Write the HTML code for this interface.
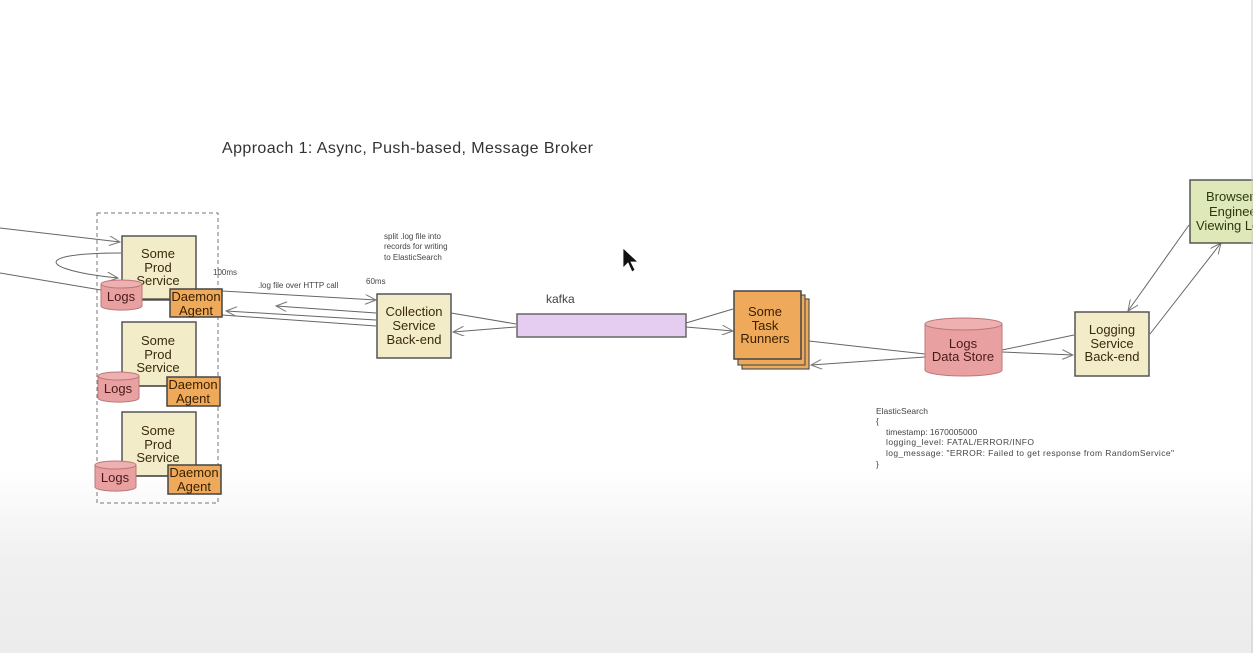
<!DOCTYPE html>
<html><head><meta charset="utf-8"><style>
html,body{margin:0;padding:0;}
body{width:1253px;height:653px;overflow:hidden;background:linear-gradient(#fff 0,#fff 470px,#f0f0f0 560px,#ececec 653px);font-family:"Liberation Sans",sans-serif;}
svg{position:absolute;left:0;top:0;}
</style></head><body>
<svg width="1253" height="653" viewBox="0 0 1253 653" font-family="Liberation Sans, sans-serif">
<defs>
<marker id="a" markerWidth="12" markerHeight="10" refX="11" refY="5" orient="auto" markerUnits="userSpaceOnUse">
<path d="M0,0 L11,5 L0,10" fill="none" stroke="#777" stroke-width="1"/></marker>
</defs>
<text x="222" y="153" font-size="16" fill="#333" textLength="371">Approach 1: Async, Push-based, Message Broker</text>

<rect x="97" y="213" width="121" height="290" fill="none" stroke="#777" stroke-dasharray="4,3" stroke-width="1"/>

<g stroke="#666" fill="none" stroke-width="1">
<line x1="0" y1="228" x2="120" y2="242" marker-end="url(#a)"/>
<path d="M121,253 C30,253 40,270 118,278" marker-end="url(#a)"/>
<line x1="0" y1="273" x2="101" y2="290"/>
<line x1="222" y1="291" x2="376" y2="300" marker-end="url(#a)"/>
<line x1="376" y1="313" x2="276" y2="306" marker-end="url(#a)"/>
<line x1="376" y1="320" x2="226" y2="311" marker-end="url(#a)"/>
<line x1="222" y1="315" x2="376" y2="326"/>
<line x1="451" y1="313" x2="516" y2="324"/>
<line x1="516" y1="327" x2="453" y2="332" marker-end="url(#a)"/>
<line x1="686" y1="323" x2="733" y2="309"/>
<line x1="686" y1="327" x2="733" y2="331" marker-end="url(#a)"/>
<line x1="809" y1="341" x2="925" y2="354"/>
<line x1="925" y1="357" x2="811" y2="365" marker-end="url(#a)"/>
<line x1="1002" y1="350" x2="1074" y2="335"/>
<line x1="1002" y1="352" x2="1073" y2="355" marker-end="url(#a)"/>
<line x1="1189" y1="225" x2="1128" y2="311" marker-end="url(#a)"/>
<line x1="1150" y1="334" x2="1221" y2="243" marker-end="url(#a)"/>
</g>

<g font-size="13" fill="#3a2a10" text-anchor="middle">
<rect x="122" y="236" width="74" height="64" fill="#f3ecc8" stroke="#555" stroke-width="1.5"/>
<text x="158" y="258">Some</text><text x="158" y="272">Prod</text><text x="158" y="285">Service</text>
<rect x="122" y="322" width="74" height="64" fill="#f3ecc8" stroke="#555" stroke-width="1.5"/>
<text x="158" y="345">Some</text><text x="158" y="359">Prod</text><text x="158" y="372">Service</text>
<rect x="122" y="412" width="74" height="64" fill="#f3ecc8" stroke="#555" stroke-width="1.5"/>
<text x="158" y="435">Some</text><text x="158" y="449">Prod</text><text x="158" y="462">Service</text>
</g>
<g stroke="#444" stroke-width="1.2"><line x1="140" y1="299" x2="170" y2="299"/><line x1="138" y1="386" x2="167" y2="386"/><line x1="135" y1="476" x2="168" y2="476"/></g>

<g font-size="13" fill="#4a1a1a" text-anchor="middle" stroke-width="1">
<path d="M101,284 v22 a20,4 0 0 0 41,0 v-22" fill="#e8a0a0" stroke="#b77"/><ellipse cx="121.5" cy="284" rx="20.5" ry="4" fill="#eeb0b0" stroke="#b77"/>
<text x="121" y="301" stroke="none">Logs</text>
<path d="M98,376 v22 a20,4 0 0 0 41,0 v-22" fill="#e8a0a0" stroke="#b77"/><ellipse cx="118.5" cy="376" rx="20.5" ry="4" fill="#eeb0b0" stroke="#b77"/>
<text x="118" y="393" stroke="none">Logs</text>
<path d="M95,465 v22 a20,4 0 0 0 41,0 v-22" fill="#e8a0a0" stroke="#b77"/><ellipse cx="115.5" cy="465" rx="20.5" ry="4" fill="#eeb0b0" stroke="#b77"/>
<text x="115" y="482" stroke="none">Logs</text>
</g>

<g font-size="13" fill="#3a2000" text-anchor="middle">
<rect x="170" y="289" width="52" height="28" fill="#eeaa5a" stroke="#444" stroke-width="1.5"/>
<text x="196" y="301">Daemon</text><text x="196" y="315">Agent</text>
<rect x="167" y="377" width="53" height="29" fill="#eeaa5a" stroke="#444" stroke-width="1.5"/>
<text x="193" y="389">Daemon</text><text x="193" y="403">Agent</text>
<rect x="168" y="465" width="53" height="29" fill="#eeaa5a" stroke="#444" stroke-width="1.5"/>
<text x="194" y="477">Daemon</text><text x="194" y="491">Agent</text>
</g>

<g font-size="8" fill="#444">
<text x="213" y="275">100ms</text>
<text x="258" y="288">.log file over HTTP call</text>
<text x="366" y="284">60ms</text>
<text x="384" y="239">split .log file into</text>
<text x="384" y="249">records for writing</text>
<text x="384" y="260">to ElasticSearch</text>
</g>

<rect x="377" y="294" width="74" height="64" fill="#f3ecc8" stroke="#555" stroke-width="1.5"/>
<g font-size="13" fill="#3a2a10" text-anchor="middle"><text x="414" y="316">Collection</text><text x="414" y="330">Service</text><text x="414" y="344">Back-end</text></g>

<text x="546" y="303" font-size="12" fill="#444">kafka</text>
<rect x="517" y="314" width="169" height="23" fill="#e4cdf0" stroke="#666" stroke-width="1.5"/>

<rect x="742" y="299" width="67" height="70" fill="#eeaa5a" stroke="#555" stroke-width="1.2"/>
<rect x="738" y="295" width="67" height="70" fill="#eeaa5a" stroke="#555" stroke-width="1.2"/>
<rect x="734" y="291" width="67" height="68" fill="#eeaa5a" stroke="#444" stroke-width="1.5"/>
<g font-size="13" fill="#3a2000" text-anchor="middle"><text x="765" y="316">Some</text><text x="765" y="330">Task</text><text x="765" y="343">Runners</text></g>

<path d="M925,324 v46 a38.5,6 0 0 0 77,0 v-46" fill="#e8a0a0" stroke="#b77"/>
<ellipse cx="963.5" cy="324" rx="38.5" ry="6" fill="#eeb0b0" stroke="#b77"/>
<g font-size="13" fill="#4a1a1a" text-anchor="middle"><text x="963" y="348">Logs</text><text x="963" y="361">Data Store</text></g>

<rect x="1075" y="312" width="74" height="64" fill="#f3ecc8" stroke="#555" stroke-width="1.5"/>
<g font-size="13" fill="#3a2a10" text-anchor="middle"><text x="1112" y="334">Logging</text><text x="1112" y="348">Service</text><text x="1112" y="361">Back-end</text></g>

<rect x="1190" y="180" width="70" height="63" fill="#dfe8b8" stroke="#555" stroke-width="1.5"/>
<g font-size="13" fill="#2a3a10"><text x="1206" y="201">Browser</text><text x="1209" y="216">Engineer</text><text x="1196" y="230">Viewing Logs</text></g>
<line x1="1252" y1="0" x2="1252" y2="653" stroke="#ccc"/>

<g font-size="8.5" fill="#444">
<text x="876" y="414">ElasticSearch</text>
<text x="876" y="424">{</text>
<text x="886" y="435">timestamp: 1670005000</text>
<text x="886" y="445" textLength="148">logging_level: FATAL/ERROR/INFO</text>
<text x="886" y="456" textLength="288">log_message: "ERROR: Failed to get response from RandomService"</text>
<text x="876" y="467">}</text>
</g>

<path d="M623,248 L623,268 L628,263 L632,272 L635,270 L631,262 L638,262 Z" fill="#111" stroke="#fff" stroke-width="0.8"/>
</svg>
</body></html>
